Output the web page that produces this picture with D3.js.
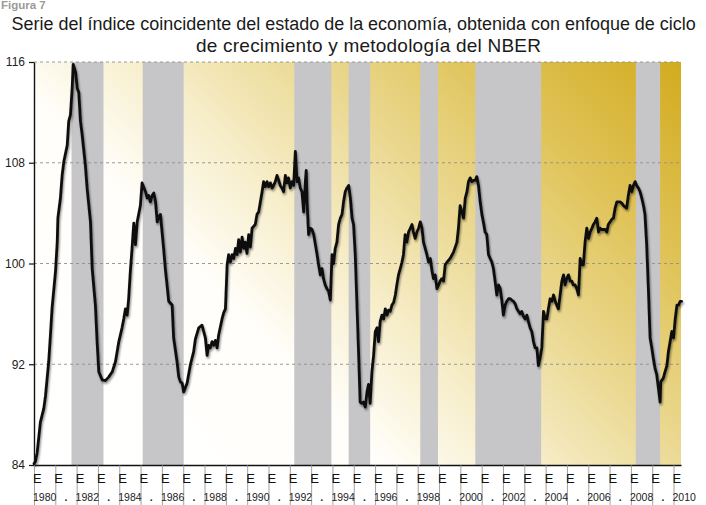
<!DOCTYPE html>
<html>
<head>
<meta charset="utf-8">
<script src="https://cdn.jsdelivr.net/npm/d3@7"></script>
<style>
  html, body { margin: 0; padding: 0; background: #fff; }
  svg { display: block; }
</style>
</head>
<body>
<script>
// Monthly-ish readings of the coincident index (decimal year, value)
const years = [
  1980.00, 1980.07, 1980.15, 1980.30, 1980.46, 1980.54, 1980.69, 1980.77, 1980.85, 1981.01, 1981.09, 1981.12,
  1981.24, 1981.32, 1981.40, 1981.56, 1981.63, 1981.71, 1981.79, 1981.84, 1981.95, 1982.03, 1982.10, 1982.18,
  1982.26, 1982.41, 1982.49, 1982.65, 1982.73, 1982.88, 1982.96, 1983.04, 1983.20, 1983.35, 1983.51, 1983.67,
  1983.82, 1983.90, 1983.98, 1984.13, 1984.21, 1984.29, 1984.37, 1984.44, 1984.52, 1984.60, 1984.68, 1984.76,
  1984.84, 1984.91, 1984.99, 1985.07, 1985.23, 1985.31, 1985.38, 1985.46, 1985.54, 1985.62, 1985.70, 1985.78,
  1985.85, 1985.93, 1986.08, 1986.16, 1986.24, 1986.32, 1986.48, 1986.55, 1986.71, 1986.79, 1986.87, 1986.95,
  1987.02, 1987.18, 1987.34, 1987.49, 1987.57, 1987.73, 1987.88, 1987.96, 1988.04, 1988.12, 1988.19, 1988.27,
  1988.35, 1988.43, 1988.51, 1988.59, 1988.66, 1988.82, 1988.90, 1988.98, 1989.06, 1989.13, 1989.21, 1989.29,
  1989.37, 1989.45, 1989.53, 1989.60, 1989.68, 1989.76, 1989.84, 1989.91, 1989.99, 1990.07, 1990.15, 1990.23,
  1990.38, 1990.46, 1990.54, 1990.62, 1990.70, 1990.77, 1990.85, 1990.93, 1991.01, 1991.09, 1991.17, 1991.24,
  1991.32, 1991.40, 1991.48, 1991.55, 1991.63, 1991.71, 1991.79, 1991.87, 1991.94, 1992.02, 1992.10, 1992.18,
  1992.26, 1992.34, 1992.41, 1992.49, 1992.57, 1992.65, 1992.73, 1992.77, 1992.81, 1992.88, 1992.96, 1993.04,
  1993.12, 1993.20, 1993.28, 1993.35, 1993.43, 1993.51, 1993.58, 1993.66, 1993.74, 1993.82, 1993.90, 1993.98,
  1994.05, 1994.13, 1994.21, 1994.29, 1994.37, 1994.45, 1994.52, 1994.60, 1994.68, 1994.76, 1994.84, 1994.92,
  1994.99, 1995.07, 1995.15, 1995.23, 1995.30, 1995.38, 1995.46, 1995.54, 1995.62, 1995.69, 1995.77, 1995.85,
  1995.93, 1996.01, 1996.09, 1996.16, 1996.24, 1996.32, 1996.40, 1996.48, 1996.56, 1996.63, 1996.71, 1996.79,
  1996.87, 1996.95, 1997.02, 1997.10, 1997.18, 1997.26, 1997.33, 1997.41, 1997.49, 1997.57, 1997.65, 1997.73,
  1997.80, 1997.88, 1997.96, 1998.04, 1998.12, 1998.20, 1998.27, 1998.35, 1998.43, 1998.51, 1998.59, 1998.67,
  1998.74, 1998.82, 1998.90, 1998.98, 1999.05, 1999.13, 1999.21, 1999.29, 1999.37, 1999.52, 1999.68, 1999.84,
  1999.91, 1999.99, 2000.07, 2000.15, 2000.23, 2000.31, 2000.38, 2000.46, 2000.54, 2000.62, 2000.70, 2000.77,
  2000.85, 2000.93, 2001.01, 2001.08, 2001.16, 2001.24, 2001.32, 2001.40, 2001.48, 2001.55, 2001.63, 2001.71,
  2001.79, 2001.87, 2001.95, 2002.02, 2002.10, 2002.18, 2002.26, 2002.34, 2002.41, 2002.49, 2002.57, 2002.65,
  2002.73, 2002.80, 2002.88, 2002.96, 2003.04, 2003.12, 2003.19, 2003.27, 2003.35, 2003.43, 2003.51, 2003.59,
  2003.66, 2003.74, 2003.82, 2003.90, 2003.98, 2004.06, 2004.13, 2004.21, 2004.29, 2004.37, 2004.45, 2004.52,
  2004.60, 2004.68, 2004.76, 2004.84, 2004.91, 2004.99, 2005.07, 2005.15, 2005.23, 2005.30, 2005.38, 2005.46,
  2005.54, 2005.62, 2005.70, 2005.77, 2005.85, 2005.93, 2006.01, 2006.09, 2006.17, 2006.24, 2006.32, 2006.40,
  2006.48, 2006.56, 2006.63, 2006.71, 2006.79, 2006.87, 2006.94, 2007.02, 2007.10, 2007.18, 2007.26, 2007.34,
  2007.41, 2007.49, 2007.57, 2007.65, 2007.73, 2007.80, 2007.88, 2007.96, 2008.04, 2008.12, 2008.20, 2008.27,
  2008.35, 2008.43, 2008.51, 2008.59, 2008.66, 2008.74, 2008.82, 2008.90, 2008.98, 2009.05, 2009.13, 2009.21,
  2009.29, 2009.37, 2009.40, 2009.52, 2009.60, 2009.69, 2009.76, 2009.84, 2009.92, 2010.00, 2010.08, 2010.16,
  2010.23, 2010.31, 2010.38
];
const index = [
  84.1, 84.3, 85.0, 87.4, 88.5, 89.5, 92.2, 94.3, 96.5, 99.4, 101.7, 103.6,
  105.2, 107.0, 108.1, 109.4, 111.3, 111.8, 113.9, 115.8, 115.2, 113.9, 113.6, 111.3,
  110.2, 107.8, 106.0, 103.3, 99.6, 96.7, 93.8, 91.4, 90.75, 90.7, 91.0, 91.4,
  92.2, 93.0, 93.8, 94.9, 95.6, 96.4, 95.9, 97.2, 99.4, 101.2, 103.2, 101.5,
  103.3, 103.9, 104.6, 106.4, 105.7, 105.2, 105.4, 104.9, 105.4, 105.6, 104.9, 103.3,
  103.7, 103.9, 101.2, 99.6, 98.3, 97.0, 96.7, 94.1, 92.2, 91.0, 90.6, 90.5,
  89.8, 90.5, 92.0, 93.0, 94.0, 94.9, 95.1, 94.6, 94.1, 92.7, 93.5, 93.3,
  93.8, 93.5, 93.9, 93.3, 94.3, 95.6, 96.1, 96.4, 99.9, 100.7, 100.1, 100.7,
  100.4, 101.2, 100.7, 101.9, 100.9, 102.1, 101.2, 101.7, 100.8, 102.3, 101.3, 102.8,
  103.1, 103.9, 104.1, 104.9, 105.7, 106.5, 106.1, 106.5, 106.1, 106.4, 106.0, 106.2,
  106.5, 107.0, 106.6, 106.2, 106.0, 105.7, 107.0, 106.4, 106.8, 106.0, 106.5, 106.2,
  108.9, 106.5, 106.8, 106.0, 105.7, 104.1, 106.5, 107.4, 104.9, 102.3, 102.8, 102.7,
  102.3, 101.5, 100.7, 99.9, 99.1, 99.6, 98.8, 98.3, 98.0, 97.8, 97.1, 100.7,
  100.0, 101.2, 101.7, 103.1, 103.6, 103.9, 104.9, 105.7, 106.0, 106.2, 105.2, 103.6,
  103.1, 100.7, 96.7, 92.7, 89.0, 88.9, 89.0, 88.6, 89.8, 90.4, 88.9, 91.4,
  92.7, 94.6, 94.9, 93.8, 95.4, 95.9, 95.6, 96.4, 95.9, 96.3, 96.2, 96.7,
  96.9, 97.5, 98.3, 99.1, 99.6, 100.1, 100.7, 102.3, 101.7, 102.5, 102.8, 103.1,
  102.5, 102.0, 102.5, 102.8, 103.3, 102.8, 101.7, 101.2, 100.7, 100.1, 100.4, 99.4,
  98.8, 99.1, 98.0, 98.3, 98.6, 98.8, 98.6, 99.9, 100.1, 100.4, 100.9, 101.7,
  102.8, 104.6, 104.1, 103.6, 105.2, 105.7, 106.5, 106.8, 106.5, 106.6, 106.6, 106.9,
  106.2, 104.9, 103.9, 103.3, 102.5, 102.3, 100.7, 100.4, 100.1, 99.6, 98.6, 97.5,
  98.3, 98.0, 97.0, 95.9, 96.7, 97.0, 97.2, 97.2, 97.1, 97.0, 96.8, 96.4,
  96.2, 96.0, 96.2, 95.8, 95.6, 95.9, 95.4, 94.9, 94.6, 93.8, 93.3, 93.3,
  91.9, 92.5, 93.3, 96.2, 95.6, 95.6, 96.4, 97.2, 97.0, 97.5, 97.0, 96.7,
  96.4, 97.5, 98.6, 99.1, 98.3, 98.8, 99.1, 98.6, 98.6, 98.3, 98.3, 98.0,
  97.5, 100.4, 99.9, 99.9, 101.7, 102.8, 102.0, 102.5, 102.8, 103.1, 103.3, 103.6,
  102.5, 102.8, 102.7, 102.7, 102.7, 102.5, 103.1, 103.3, 103.5, 103.6, 104.4, 104.9,
  104.9, 104.9, 104.8, 104.6, 104.5, 104.4, 105.4, 106.2, 105.7, 106.2, 106.5, 106.2,
  106.0, 105.7, 105.2, 104.6, 103.9, 101.5, 98.0, 94.1, 93.3, 92.5, 91.7, 91.2,
  90.1, 89.0, 90.6, 90.9, 91.4, 91.9, 93.0, 93.8, 94.6, 94.1, 95.6, 96.7,
  96.7, 97.0, 97.0
];

// Grey bands (decimal years)
const bandStart = [1981.76, 1985.10, 1992.21, 1994.76, 1998.12, 2000.70, 2008.23];
const bandEnd   = [1983.26, 1987.02, 1993.95, 1995.77, 1998.95, 2003.79, 2009.37];

const yTicks = [84, 92, 100, 108, 116];
const gridValues = [92, 100, 108, 116];
const tickYears = d3.range(1980, 2011);
const yearLabels = tickYears.map((yr) => (yr % 2 === 0 ? String(yr) : "."));

const figLabel = "Figura 7";
const titleLines = [
  "Serie del índice coincidente del estado de la economía, obtenida con enfoque de ciclo",
  "de crecimiento y metodología del NBER",
];

const width = 706;
const height = 505;
const plot = { left: 34, right: 681, top: 62, bottom: 465 };

const x = d3.scaleLinear().domain([1980, 2010.35]).range([plot.left, plot.right]);
const y = d3.scaleLinear().domain([84, 116]).range([plot.bottom, plot.top]);

const svg = d3.select("body").append("svg")
  .attr("width", width)
  .attr("height", height)
  .style("font-family", '"Liberation Sans", Arial, sans-serif');

svg.append("rect").attr("width", width).attr("height", height).attr("fill", "#fff");

const defs = svg.append("defs");

// Background wash: white lower-left, gold upper-right
const grad = defs.append("linearGradient")
  .attr("id", "wash")
  .attr("x1", 0).attr("y1", 1)
  .attr("x2", 1.176).attr("y2", 0.294);
[
  [0, "#ffffff"],
  [0.34, "#fffefa"],
  [0.48, "#f7eecb"],
  [0.62, "#ecdb98"],
  [0.8, "#e0c45a"],
  [1, "#d2ab1e"],
].forEach(([o, c]) => grad.append("stop").attr("offset", o).attr("stop-color", c));

const shadow = defs.append("filter")
  .attr("id", "shadow")
  .attr("x", "-5%").attr("y", "-5%")
  .attr("width", "110%").attr("height", "110%");
shadow.append("feGaussianBlur").attr("in", "SourceAlpha").attr("stdDeviation", 1.3).attr("result", "b");
shadow.append("feOffset").attr("in", "b").attr("dx", 1.2).attr("dy", 1.6).attr("result", "o");
shadow.append("feComponentTransfer").attr("in", "o").attr("result", "s")
  .append("feFuncA").attr("type", "linear").attr("slope", 0.45);
const merge = shadow.append("feMerge");
merge.append("feMergeNode").attr("in", "s");
merge.append("feMergeNode").attr("in", "SourceGraphic");

// Plot background
svg.append("rect")
  .attr("x", plot.left)
  .attr("y", plot.top)
  .attr("width", plot.right - plot.left)
  .attr("height", plot.bottom - plot.top)
  .attr("fill", "url(#wash)");

// Grey bands
svg.append("g")
  .selectAll("rect")
  .data(bandStart.map((s, i) => ({ s, e: bandEnd[i] })))
  .join("rect")
  .attr("x", (d) => x(d.s))
  .attr("y", plot.top)
  .attr("width", (d) => x(d.e) - x(d.s))
  .attr("height", plot.bottom - plot.top)
  .attr("fill", "#c6c6c8");

// Dashed grid
svg.append("g")
  .selectAll("line")
  .data(gridValues)
  .join("line")
  .attr("x1", plot.left)
  .attr("x2", plot.right)
  .attr("y1", (d) => y(d))
  .attr("y2", (d) => y(d))
  .attr("stroke", "#8f8f8f")
  .attr("stroke-width", 0.9)
  .attr("stroke-dasharray", "3,3");

// Series
const series = years.map((t, i) => ({ t, v: index[i] }));
svg.append("path")
  .datum(series)
  .attr("fill", "none")
  .attr("stroke", "#111")
  .attr("stroke-width", 2.8)
  .attr("stroke-linejoin", "round")
  .attr("stroke-linecap", "round")
  .attr("filter", "url(#shadow)")
  .attr("d", d3.line().x((d) => x(d.t)).y((d) => y(d.v)));

// Y axis
const yAxis = svg.append("g")
  .attr("transform", `translate(${plot.left},0)`)
  .call(d3.axisLeft(y).tickValues(yTicks).tickSize(5).tickSizeOuter(0).tickPadding(4));
yAxis.select(".domain").attr("stroke", "#111").attr("stroke-width", 1.4);
yAxis.selectAll(".tick line").attr("stroke", "#111").attr("stroke-width", 1.2);
yAxis.selectAll(".tick text")
  .attr("fill", "#222")
  .attr("font-size", 12)
  .attr("font-family", '"Liberation Sans", Arial, sans-serif');

// X axis: long tick at each January, "E" mark, year in the gap
const xAxis = svg.append("g")
  .attr("transform", `translate(0,${plot.bottom})`)
  .call(d3.axisBottom(x).tickValues(tickYears).tickSize(40).tickSizeOuter(0).tickFormat(""));
xAxis.select(".domain").attr("stroke", "#111").attr("stroke-width", 1.6);
xAxis.selectAll(".tick line").attr("stroke", "#8a8a8a").attr("stroke-width", 0.8);

svg.append("g")
  .selectAll("text")
  .data(tickYears)
  .join("text")
  .attr("x", (d) => x(d) - 1)
  .attr("y", plot.bottom + 18)
  .attr("fill", "#111")
  .attr("font-size", 13)
  .attr("font-family", '"Liberation Sans Narrow", "Liberation Sans", sans-serif')
  .text("E");

svg.append("g")
  .selectAll("text")
  .data(tickYears)
  .join("text")
  .attr("x", (d) => (x(d) + x(d + 1)) / 2)
  .attr("y", plot.bottom + 36)
  .attr("text-anchor", "middle")
  .attr("fill", "#222")
  .attr("font-size", 10.5)
  .attr("font-family", '"Liberation Sans Narrow", "Liberation Sans", sans-serif')
  .attr("font-weight", (d, i) => (yearLabels[i] === "." ? 700 : 400))
  .text((d, i) => yearLabels[i]);

// Titles
svg.append("text")
  .attr("x", 1)
  .attr("y", 9)
  .attr("fill", "#9a9a9a")
  .attr("font-size", 11.5)
  .attr("font-weight", 700)
  .text(figLabel);

// fit each title line to the width it takes in the reference
function fitLine(txt, x0, yb, target) {
  const t = svg.append("text")
    .attr("x", x0)
    .attr("y", yb)
    .attr("fill", "#1a1a1a")
    .attr("font-size", 19)
    .text(txt);
  const w = t.node().getComputedTextLength();
  if (w > target) t.attr("font-size", 19 * target / w);
  else t.attr("textLength", target).attr("lengthAdjust", "spacing");
}
fitLine(titleLines[0], 11.5, 29.5, 685);
fitLine(titleLines[1], 196, 52, 345);
</script>
</body>
</html>
